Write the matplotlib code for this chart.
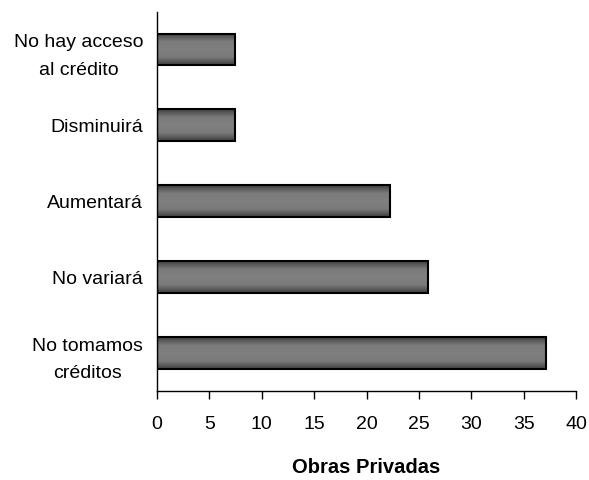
import numpy as np
import matplotlib.pyplot as plt
from matplotlib.colors import LinearSegmentedColormap

plt.rcParams['font.family'] = ['Liberation Sans', 'DejaVu Sans']

categories = ['No tomamos\ncréditos', 'No variará', 'Aumentará', 'Disminuirá',
              'No hay acceso\nal crédito']
values = [37.1, 25.9, 22.2, 7.4, 7.4]

fig = plt.figure(figsize=(5.89, 4.8), dpi=100)
ax = fig.add_axes([0.2666, 0.1854, 0.7113, 0.7906])

y = np.arange(len(categories))
bars = ax.barh(y, values, height=0.42, color='none', edgecolor='black', linewidth=1.5, zorder=3)

# shaded fill: dark at top/bottom edges, lighter in the middle
cmap = LinearSegmentedColormap.from_list('shade', ['#404040', '#7a7a7a', '#808080', '#7a7a7a', '#404040'])
grad = np.linspace(0, 1, 100).reshape(-1, 1)
for b in bars:
    x0, y0 = b.get_x(), b.get_y()
    im = ax.imshow(grad, cmap=cmap, aspect='auto', zorder=2,
                   extent=[x0, x0 + b.get_width(), y0, y0 + b.get_height()])
    im.set_clip_path(b)

ax.set_xlim(0, 40)
ax.set_ylim(-0.5, len(categories) - 0.5)
ax.set_xticks(np.arange(0, 41, 5))
ax.set_yticks(y)
ax.set_yticklabels(categories, ha='right', multialignment='center', linespacing=1.8)
ax.tick_params(axis='y', length=0, pad=10, labelsize=14)
ax.tick_params(axis='x', length=6, width=1, pad=12, labelsize=14)

for s in ['top', 'right']:
    ax.spines[s].set_visible(False)
ax.spines['left'].set_linewidth(1)
ax.spines['bottom'].set_linewidth(1)

ax.set_xlabel('Obras Privadas', fontsize=14.5, fontweight='bold', labelpad=18)

fig.savefig('out.png', dpi=100)
